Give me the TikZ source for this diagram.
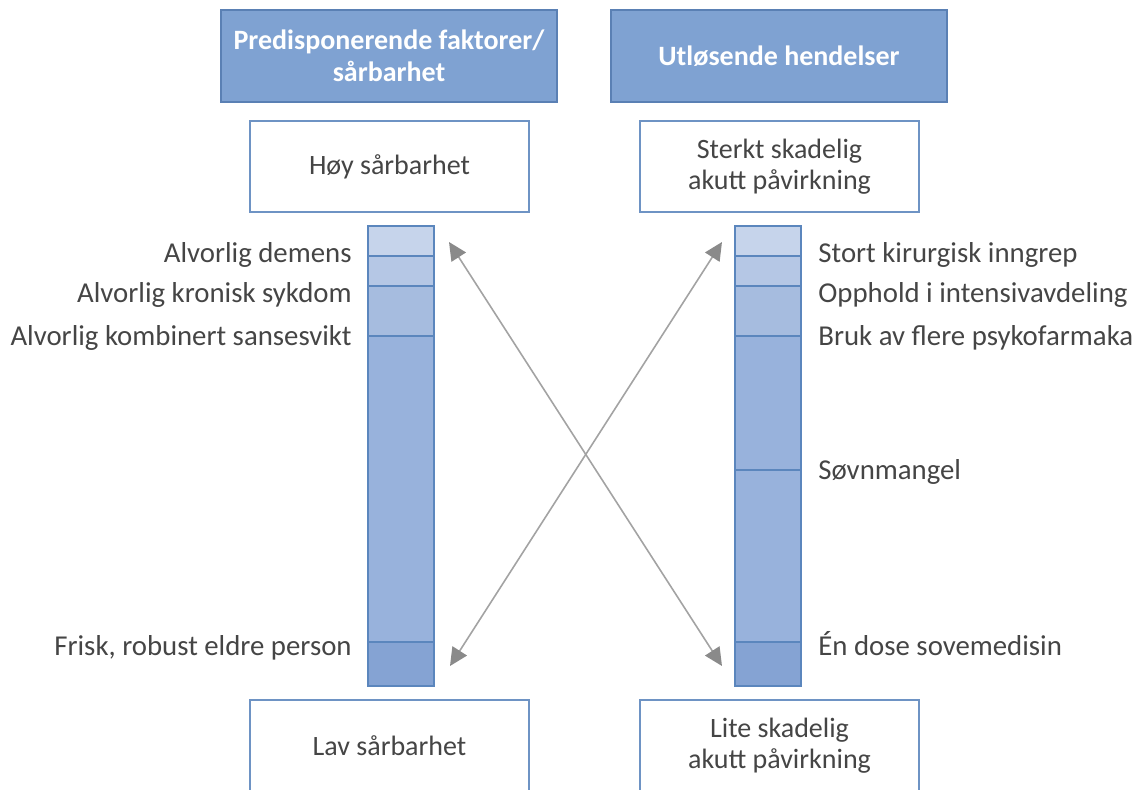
\documentclass[tikz,border=0pt]{standalone}
\usepackage{fontspec}
\setmainfont{Carlito}
\usetikzlibrary{arrows.meta,calc}

\definecolor{hdrfill}{HTML}{7FA2D2}
\definecolor{hdrline}{HTML}{5A80B4}
\definecolor{boxline}{HTML}{6E93C4}
\definecolor{barline}{HTML}{5B86BD}
\definecolor{barA}{HTML}{C6D4EB}
\definecolor{barB}{HTML}{B5C7E5}
\definecolor{barC}{HTML}{A6BCDF}
\definecolor{barD}{HTML}{98B2DC}
\definecolor{barE}{HTML}{85A3D3}
\definecolor{txtgray}{HTML}{454545}
\definecolor{arrline}{HTML}{A3A3A3}
\definecolor{arrhead}{HTML}{8A8A8A}

\begin{document}
\begin{tikzpicture}[x=0.5pt,y=-0.5pt,
    hdr/.style={draw=hdrline,fill=hdrfill,line width=0.8pt,minimum width=168pt,minimum height=46pt,
      inner sep=0pt,align=center,text=white,font=\fontsize{14}{16}\selectfont\bfseries},
    endbox/.style={draw=boxline,fill=white,line width=0.7pt,minimum width=139.5pt,minimum height=45.5pt,
      inner sep=0pt,align=center,text=txtgray,font=\fontsize{14}{15.5}\selectfont},
    seg/.style={draw=barline,line width=1pt,minimum width=33pt,inner sep=0pt},
    lbl/.style={text=txtgray,font=\fontsize{14.4}{16}\selectfont,inner sep=0pt},
    cross/.style={draw=arrline,line width=0.8pt,{Triangle[length=9pt,width=8.5pt,color=arrhead]}-{Triangle[length=9pt,width=8.5pt,color=arrhead]}}]
  \useasboundingbox (0,0) rectangle (1142,789);
  \clip (0,0) rectangle (1142,789);

  % headers
  \node[hdr] (hdrL) at (389,56) {Predisponerende faktorer/\\sårbarhet};
  \node[hdr] (hdrR) at (779,56) {Utløsende hendelser};

  % top and bottom boxes
  \node[endbox] (hiV) at (389.5,166.5) {Høy sårbarhet};
  \node[endbox] (hiE) at (779.5,166.5) {Sterkt skadelig\\akutt påvirkning};
  \node[endbox] (loV) at (389.5,745.5) {Lav sårbarhet};
  \node[endbox] (loE) at (779.5,745.5) {Lite skadelig\\akutt påvirkning};

  % left bar
  \foreach \t/\b/\c [count=\i] in {226/256/barA,256/286/barB,286/336/barC,336/642/barD,642/686/barE}
    \node[seg,fill=\c,minimum height={(\b-\t)*0.5pt}] (L\i) at (401,{(\t+\b)/2}) {};

  % right bar
  \foreach \t/\b/\c [count=\i] in {226/256/barA,256/286/barB,286/336/barC,336/470/barD,470/642/barD,642/686/barE}
    \node[seg,fill=\c,minimum height={(\b-\t)*0.5pt}] (R\i) at (768,{(\t+\b)/2}) {};

  % labels
  \node[lbl,anchor=base east] (la) at (352,262) {Alvorlig demens};
  \node[lbl,anchor=base east] (lb) at (352,302) {Alvorlig kronisk sykdom};
  \node[lbl,anchor=base east] (lc) at (352,345) {Alvorlig kombinert sansesvikt};
  \node[lbl,anchor=base east] (ld) at (352,655) {Frisk, robust eldre person};

  \node[lbl,anchor=base west] (ra) at (818,262) {Stort kirurgisk inngrep};
  \node[lbl,anchor=base west] (rb) at (818,302) {Opphold i intensivavdeling};
  \node[lbl,anchor=base west] (rc) at (818,345) {Bruk av flere psykofarmaka};
  \node[lbl,anchor=base west] (rd) at (818,479) {Søvnmangel};
  \node[lbl,anchor=base west] (re) at (818,655) {Én dose sovemedisin};

  % crossing arrows
  \coordinate (tipHL) at ($(L1.north east)+(14,17)$);
  \coordinate (tipLL) at ($(L5.south east)+(15,-21)$);
  \coordinate (tipHR) at ($(R1.north west)+(-12,17)$);
  \coordinate (tipLR) at ($(R6.south west)+(-12,-21)$);
  \draw[cross] (tipHL) -- (tipLR);
  \draw[cross] (tipHR) -- (tipLL);
\end{tikzpicture}
\end{document}
